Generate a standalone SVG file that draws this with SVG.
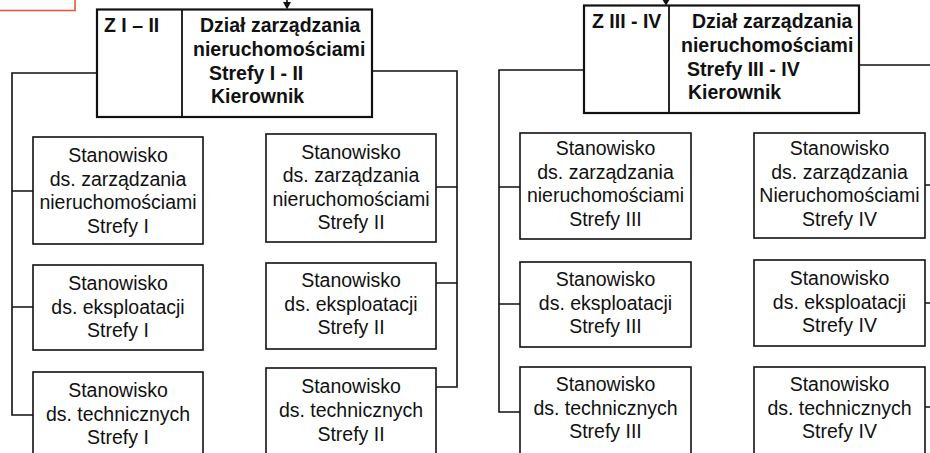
<svg xmlns="http://www.w3.org/2000/svg" width="930" height="453" viewBox="0 0 930 453">
<style>
.bg{fill:#ffffff}
.box{fill:#ffffff;stroke:#111;stroke-width:1.6}
.head{fill:#ffffff;stroke:#111;stroke-width:2.2}
.div{stroke:#111;stroke-width:1.8}
.t{font-family:"Liberation Sans",Arial,sans-serif;font-size:19.5px;fill:#111;text-anchor:middle}
.b{font-family:"Liberation Sans",Arial,sans-serif;font-size:19.5px;font-weight:bold;fill:#111}
.con{fill:none;stroke:#111;stroke-width:1.6}
.arr{fill:#111}
</style>
<rect class="bg" x="0" y="0" width="930" height="453"/>
<rect id="red" x="-2" y="-2" width="77" height="12.5" fill="none" stroke="#e4573a" stroke-width="1.6"/>

<g id="connectors">
<path class="con" d="M287,0 V4"/>
<path class="arr" d="M283,2 L291,2 L287,9.5 Z"/>
<path class="con" d="M666,0 V1"/>
<path class="arr" d="M662,-1 L670,-1 L666,5.5 Z"/>
<path class="con" d="M97,73 H12 V415 H33 M12,191 H33 M12,307 H33"/>
<path class="con" d="M372,71 H457 V387 H436 M436,187 H457 M436,283 H457"/>
<path class="con" d="M584,70 H499 V412 H520 M499,187 H520 M499,304 H520"/>
<path class="con" d="M859,65 H932 M925,185 H932 M925,303 H932 M925,407 H932"/>
</g>

<g id="head1">
<rect class="head" x="97" y="9.5" width="275" height="107.5"/>
<line class="div" x1="182" y1="9.5" x2="182" y2="117"/>
<text class="b" x="104" y="32">Z I – II</text>
<text class="b" x="200" y="32">Dział zarządzania</text>
<text class="b" x="193" y="55.5">nieruchomościami</text>
<text class="b" x="209" y="80">Strefy I - II</text>
<text class="b" x="211" y="103">Kierownik</text>
</g>

<g id="head2">
<rect class="head" x="584" y="5.5" width="275" height="107.5"/>
<line class="div" x1="669" y1="5.5" x2="669" y2="113"/>
<text class="b" x="592" y="28">Z III - IV</text>
<text class="b" x="692" y="28">Dział zarządzania</text>
<text class="b" x="681" y="52">nieruchomościami</text>
<text class="b" x="687" y="75.5">Strefy III - IV</text>
<text class="b" x="688" y="99">Kierownik</text>
</g>

<g id="n1a">
<rect class="box" x="33" y="137" width="170" height="107"/>
<text class="t" x="118" y="162">Stanowisko</text>
<text class="t" x="118" y="185.5">ds. zarządzania</text>
<text class="t" x="118" y="209">nieruchomościami</text>
<text class="t" x="118" y="232.5">Strefy I</text>
</g>
<g id="n1b">
<rect class="box" x="33" y="265" width="170" height="85"/>
<text class="t" x="118" y="290">Stanowisko</text>
<text class="t" x="118" y="313.5">ds. eksploatacji</text>
<text class="t" x="118" y="337">Strefy I</text>
</g>
<g id="n1c">
<rect class="box" x="33" y="372" width="170" height="90"/>
<text class="t" x="118" y="397">Stanowisko</text>
<text class="t" x="118" y="420.5">ds. technicznych</text>
<text class="t" x="118" y="444">Strefy I</text>
</g>

<g id="n2a">
<rect class="box" x="266" y="134" width="170" height="108"/>
<text class="t" x="351" y="158.5">Stanowisko</text>
<text class="t" x="351" y="182">ds. zarządzania</text>
<text class="t" x="351" y="205.5">nieruchomościami</text>
<text class="t" x="351" y="229">Strefy II</text>
</g>
<g id="n2b">
<rect class="box" x="266" y="263" width="170" height="86"/>
<text class="t" x="351" y="287">Stanowisko</text>
<text class="t" x="351" y="310.5">ds. eksploatacji</text>
<text class="t" x="351" y="334">Strefy II</text>
</g>
<g id="n2c">
<rect class="box" x="266" y="368" width="170" height="94"/>
<text class="t" x="351" y="393">Stanowisko</text>
<text class="t" x="351" y="417">ds. technicznych</text>
<text class="t" x="351" y="441">Strefy II</text>
</g>

<g id="n3a">
<rect class="box" x="520" y="133" width="171" height="106"/>
<text class="t" x="605.5" y="155">Stanowisko</text>
<text class="t" x="605.5" y="178.5">ds. zarządzania</text>
<text class="t" x="605.5" y="202">nieruchomościami</text>
<text class="t" x="605.5" y="225.5">Strefy III</text>
</g>
<g id="n3b">
<rect class="box" x="520" y="262" width="171" height="85"/>
<text class="t" x="605.5" y="285.5">Stanowisko</text>
<text class="t" x="605.5" y="309.5">ds. eksploatacji</text>
<text class="t" x="605.5" y="333">Strefy III</text>
</g>
<g id="n3c">
<rect class="box" x="520" y="367" width="171" height="95"/>
<text class="t" x="605.5" y="390.5">Stanowisko</text>
<text class="t" x="605.5" y="414.5">ds. technicznych</text>
<text class="t" x="605.5" y="438">Strefy III</text>
</g>

<g id="n4a">
<rect class="box" x="754" y="133" width="171" height="105"/>
<text class="t" x="839.5" y="155">Stanowisko</text>
<text class="t" x="839.5" y="178.5">ds. zarządzania</text>
<text class="t" x="839.5" y="202">Nieruchomościami</text>
<text class="t" x="839.5" y="225.5">Strefy IV</text>
</g>
<g id="n4b">
<rect class="box" x="754" y="260" width="171" height="86"/>
<text class="t" x="839.5" y="285">Stanowisko</text>
<text class="t" x="839.5" y="308.5">ds. eksploatacji</text>
<text class="t" x="839.5" y="332">Strefy IV</text>
</g>
<g id="n4c">
<rect class="box" x="754" y="367" width="171" height="95"/>
<text class="t" x="839.5" y="390.5">Stanowisko</text>
<text class="t" x="839.5" y="414.5">ds. technicznych</text>
<text class="t" x="839.5" y="438">Strefy IV</text>
</g>
</svg>
